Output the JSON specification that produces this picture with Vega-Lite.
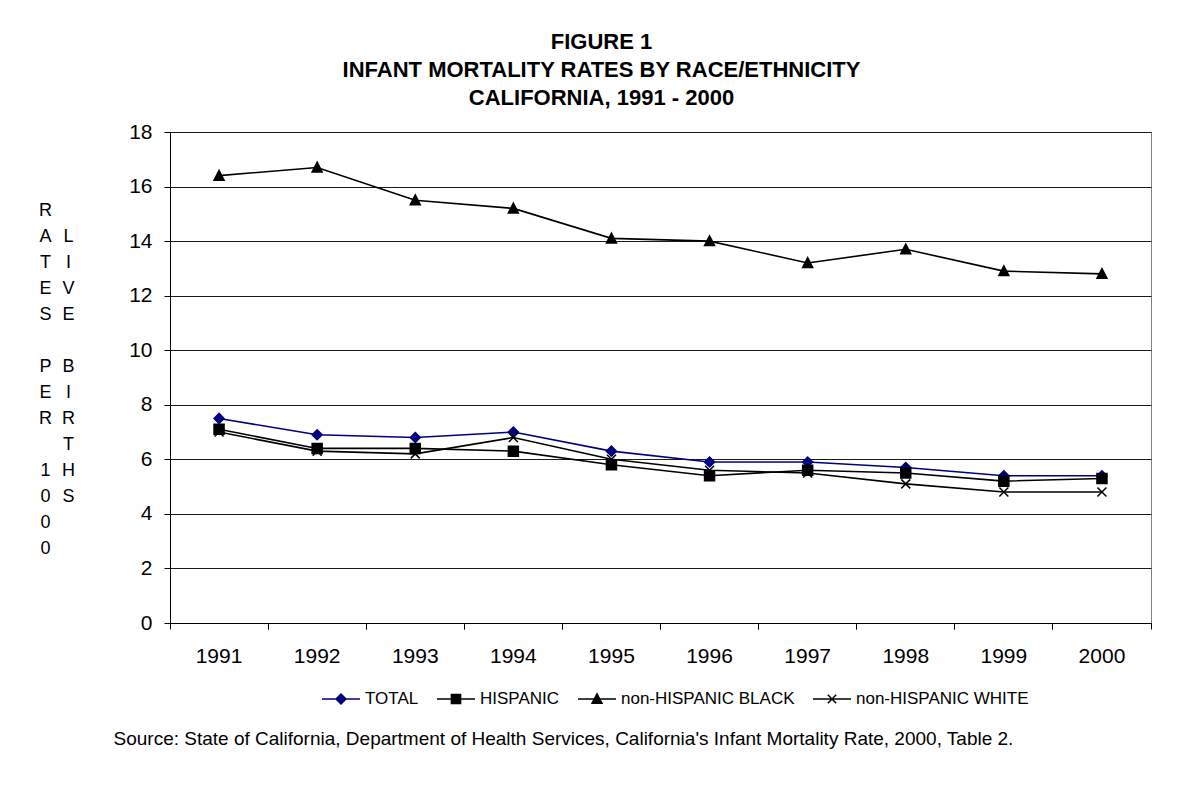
{
  "$schema": "https://vega.github.io/schema/vega-lite/v6.json",
  "width": 981,
  "height": 491,
  "autosize": {"type": "none"},
  "padding": {"left": 170, "top": 132, "right": 53, "bottom": 170},
  "background": "white",
  "config": {
    "font": "Liberation Sans",
    "view": {"stroke": "#808080", "strokeWidth": 1},
    "axis": {"labelColor": "black", "titleColor": "black", "domainColor": "black", "tickColor": "black", "domainWidth": 1, "tickWidth": 1}
  },
  "title": {
    "text": ["FIGURE 1", "INFANT MORTALITY RATES BY RACE/ETHNICITY", "CALIFORNIA, 1991 - 2000"],
    "fontSize": 22,
    "fontWeight": "bold",
    "lineHeight": 28,
    "anchor": "middle",
    "dx": -59,
    "offset": 11,
    "color": "black",
    "font": "Liberation Sans"
  },
  "datasets": {
    "rates": [
      {"year": 1991, "series": "TOTAL", "rate": 7.5},
      {"year": 1992, "series": "TOTAL", "rate": 6.9},
      {"year": 1993, "series": "TOTAL", "rate": 6.8},
      {"year": 1994, "series": "TOTAL", "rate": 7.0},
      {"year": 1995, "series": "TOTAL", "rate": 6.3},
      {"year": 1996, "series": "TOTAL", "rate": 5.9},
      {"year": 1997, "series": "TOTAL", "rate": 5.9},
      {"year": 1998, "series": "TOTAL", "rate": 5.7},
      {"year": 1999, "series": "TOTAL", "rate": 5.4},
      {"year": 2000, "series": "TOTAL", "rate": 5.4},
      {"year": 1991, "series": "HISPANIC", "rate": 7.1},
      {"year": 1992, "series": "HISPANIC", "rate": 6.4},
      {"year": 1993, "series": "HISPANIC", "rate": 6.4},
      {"year": 1994, "series": "HISPANIC", "rate": 6.3},
      {"year": 1995, "series": "HISPANIC", "rate": 5.8},
      {"year": 1996, "series": "HISPANIC", "rate": 5.4},
      {"year": 1997, "series": "HISPANIC", "rate": 5.6},
      {"year": 1998, "series": "HISPANIC", "rate": 5.5},
      {"year": 1999, "series": "HISPANIC", "rate": 5.2},
      {"year": 2000, "series": "HISPANIC", "rate": 5.3},
      {"year": 1991, "series": "non-HISPANIC BLACK", "rate": 16.4},
      {"year": 1992, "series": "non-HISPANIC BLACK", "rate": 16.7},
      {"year": 1993, "series": "non-HISPANIC BLACK", "rate": 15.5},
      {"year": 1994, "series": "non-HISPANIC BLACK", "rate": 15.2},
      {"year": 1995, "series": "non-HISPANIC BLACK", "rate": 14.1},
      {"year": 1996, "series": "non-HISPANIC BLACK", "rate": 14.0},
      {"year": 1997, "series": "non-HISPANIC BLACK", "rate": 13.2},
      {"year": 1998, "series": "non-HISPANIC BLACK", "rate": 13.7},
      {"year": 1999, "series": "non-HISPANIC BLACK", "rate": 12.9},
      {"year": 2000, "series": "non-HISPANIC BLACK", "rate": 12.8},
      {"year": 1991, "series": "non-HISPANIC WHITE", "rate": 7.0},
      {"year": 1992, "series": "non-HISPANIC WHITE", "rate": 6.3},
      {"year": 1993, "series": "non-HISPANIC WHITE", "rate": 6.2},
      {"year": 1994, "series": "non-HISPANIC WHITE", "rate": 6.8},
      {"year": 1995, "series": "non-HISPANIC WHITE", "rate": 6.0},
      {"year": 1996, "series": "non-HISPANIC WHITE", "rate": 5.6},
      {"year": 1997, "series": "non-HISPANIC WHITE", "rate": 5.5},
      {"year": 1998, "series": "non-HISPANIC WHITE", "rate": 5.1},
      {"year": 1999, "series": "non-HISPANIC WHITE", "rate": 4.8},
      {"year": 2000, "series": "non-HISPANIC WHITE", "rate": 4.8}
    ]
  },
  "layer": [
    {
      "data": {"name": "rates"},
      "mark": {"type": "line", "strokeWidth": 1.6},
      "encoding": {
        "x": {
          "field": "year", "type": "ordinal",
          "scale": {"type": "band", "paddingInner": 0, "paddingOuter": 0},
          "axis": {"orient": "bottom", "title": null, "ticks": false, "domain": true, "labelAngle": 0, "labelFontSize": 21, "labelPadding": 22, "grid": false}
        },
        "y": {
          "field": "rate", "type": "quantitative",
          "scale": {"domain": [0, 18], "nice": false, "zero": true},
          "axis": {
            "orient": "left",
            "title": ["R", "A", "T", "E", "S", "\u200b", "P", "E", "R", "\u200b", "1", "0", "0", "0"],
            "titleAngle": 0, "titleAlign": "center", "titleBaseline": "top",
            "titleX": -125, "titleY": 69, "titleFontSize": 18, "titleFontWeight": "normal", "titleLineHeight": 26,
            "values": [0, 2, 4, 6, 8, 10, 12, 14, 16, 18],
            "grid": true, "gridColor": "#1a1a1a", "gridWidth": 1,
            "tickSize": 6, "labelFontSize": 21, "labelPadding": 12
          }
        },
        "color": {
          "field": "series", "type": "nominal",
          "scale": {"domain": ["TOTAL", "HISPANIC", "non-HISPANIC BLACK", "non-HISPANIC WHITE"], "range": ["#000080", "#000000", "#000000", "#000000"]},
          "legend": null
        }
      }
    },
    {
      "data": {"name": "rates"},
      "mark": {"type": "point", "filled": true, "size": 100, "strokeWidth": 1.5, "opacity": 1},
      "encoding": {
        "x": {
          "field": "year", "type": "ordinal",
          "axis": {
            "orient": "bottom",
            "title": "Source: State of California, Department of Health Services, California's Infant Mortality Rate, 2000, Table 2.",
            "titleX": -57, "titleY": 106, "titleAlign": "left", "titleBaseline": "top", "titleFontSize": 19, "titleFontWeight": "normal", "titleLimit": 0,
            "labels": false, "domain": false, "ticks": true, "tickSize": 6, "bandPosition": 0, "grid": false
          }
        },
        "y": {
          "field": "rate", "type": "quantitative",
          "axis": {
            "orient": "left",
            "title": ["L", "I", "V", "E", "\u200b", "B", "I", "R", "T", "H", "S"],
            "titleAngle": 0, "titleAlign": "center", "titleBaseline": "top",
            "titleX": -102, "titleY": 95.5, "titleFontSize": 18, "titleFontWeight": "normal", "titleLineHeight": 26,
            "labels": false, "ticks": false, "domain": false, "grid": false
          }
        },
        "fill": {
          "field": "series", "type": "nominal",
          "scale": {"domain": ["TOTAL", "HISPANIC", "non-HISPANIC BLACK", "non-HISPANIC WHITE"], "range": ["#000080", "#000000", "#000000", "#000000"]},
          "legend": null
        },
        "stroke": {
          "field": "series", "type": "nominal",
          "scale": {"domain": ["TOTAL", "HISPANIC", "non-HISPANIC BLACK", "non-HISPANIC WHITE"], "range": ["#000080", "#000000", "#000000", "#000000"]},
          "legend": null
        },
        "shape": {
          "field": "series", "type": "nominal",
          "scale": {"domain": ["TOTAL", "HISPANIC", "non-HISPANIC BLACK", "non-HISPANIC WHITE"], "range": ["M-1,0L0,-1L1,0L0,1Z", "M-1,-1H1V1H-1Z", "M0,-1.05L1,0.9H-1Z", "M-0.9,-0.9L0.9,0.9M-0.9,0.9L0.9,-0.9"]},
          "legend": null
        }
      }
    },
    {
      "data": {"values": []},
      "mark": {"type": "point", "filled": true, "opacity": 1, "strokeWidth": 1.5},
      "encoding": {
        "x": {
          "field": "year", "type": "ordinal",
          "axis": {"orient": "bottom", "title": null, "labels": false, "domain": false, "ticks": true, "tickSize": 6, "bandPosition": 1, "grid": false}
        },
        "fill": {
          "field": "series", "type": "nominal",
          "scale": {"domain": ["TOTAL", "HISPANIC", "non-HISPANIC BLACK", "non-HISPANIC WHITE"], "range": ["#000080", "#000000", "#000000", "#000000"]},
          "legend": {"orient": "none", "legendX": 151, "legendY": 547, "direction": "horizontal", "title": null, "symbolSize": 1444, "symbolStrokeWidth": 1.5, "labelFontSize": 17, "labelLimit": 0, "labelOffset": 4, "columnPadding": 15, "padding": 0, "labelColor": "black", "symbolOpacity": 1}
        },
        "stroke": {
          "field": "series", "type": "nominal",
          "scale": {"domain": ["TOTAL", "HISPANIC", "non-HISPANIC BLACK", "non-HISPANIC WHITE"], "range": ["#000080", "#000000", "#000000", "#000000"]},
          "legend": {"orient": "none", "legendX": 151, "legendY": 547, "direction": "horizontal", "title": null, "symbolSize": 1444, "symbolStrokeWidth": 1.5, "labelFontSize": 17, "labelLimit": 0, "labelOffset": 4, "columnPadding": 15, "padding": 0, "labelColor": "black", "symbolOpacity": 1}
        },
        "shape": {
          "field": "series", "type": "nominal",
          "scale": {"domain": ["TOTAL", "HISPANIC", "non-HISPANIC BLACK", "non-HISPANIC WHITE"], "range": ["M-1,0H1M0,-0.26L0.26,0L0,0.26L-0.26,0Z", "M-1,0H1M-0.24,-0.24H0.24V0.24H-0.24Z", "M-1,0H1M0,-0.27L0.26,0.22H-0.26Z", "M-1,0H1M-0.22,-0.22L0.22,0.22M-0.22,0.22L0.22,-0.22"]},
          "legend": {"orient": "none", "legendX": 151, "legendY": 547, "direction": "horizontal", "title": null, "symbolSize": 1444, "symbolStrokeWidth": 1.5, "labelFontSize": 17, "labelLimit": 0, "labelOffset": 4, "columnPadding": 15, "padding": 0, "labelColor": "black", "symbolOpacity": 1}
        }
      }
    }
  ],
  "resolve": {
    "axis": {"x": "independent", "y": "independent"},
    "scale": {"shape": "independent", "fill": "independent", "stroke": "independent", "color": "independent"}
  }
}
